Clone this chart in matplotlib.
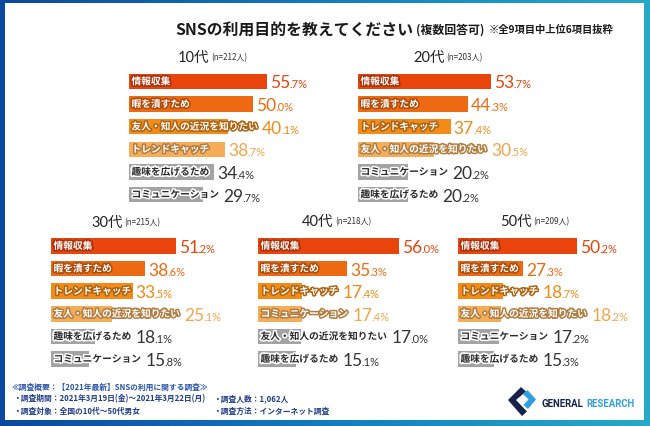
import matplotlib
matplotlib.use('Agg')
import matplotlib.pyplot as plt
from matplotlib import patheffects as pe
from matplotlib.patches import Rectangle, Polygon
from matplotlib.colors import LinearSegmentedColormap, to_rgb
from matplotlib.transforms import offset_copy
import numpy as np

W, H, DPI = 650, 427, 100
JP = ['Noto Sans CJK JP', 'DejaVu Sans']
NUM = ['Lato', 'Noto Sans CJK JP', 'DejaVu Sans']
plt.rcParams['font.family'] = JP

# ---------------- data ----------------
title = 'SNSの利用目的を教えてください'
title_note = '(複数回答可)'
title_sub = '※全9項目中上位6項目抜粋'

ages = ['10代', '20代', '30代', '40代', '50代']
sample_n = [212, 203, 215, 218, 209]

cats_10s = ['情報収集', '暇を潰すため', '友人・知人の近況を知りたい', 'トレンドキャッチ', '趣味を広げるため', 'コミュニケーション']
vals_10s = [55.7, 50.0, 40.1, 38.7, 34.4, 29.7]
cats_20s = ['情報収集', '暇を潰すため', 'トレンドキャッチ', '友人・知人の近況を知りたい', 'コミュニケーション', '趣味を広げるため']
vals_20s = [53.7, 44.3, 37.4, 30.5, 20.2, 20.2]
cats_30s = ['情報収集', '暇を潰すため', 'トレンドキャッチ', '友人・知人の近況を知りたい', '趣味を広げるため', 'コミュニケーション']
vals_30s = [51.2, 38.6, 33.5, 25.1, 18.1, 15.8]
cats_40s = ['情報収集', '暇を潰すため', 'トレンドキャッチ', 'コミュニケーション', '友人・知人の近況を知りたい', '趣味を広げるため']
vals_40s = [56.0, 35.3, 17.4, 17.4, 17.0, 15.1]
cats_50s = ['情報収集', '暇を潰すため', 'トレンドキャッチ', '友人・知人の近況を知りたい', 'コミュニケーション', '趣味を広げるため']
vals_50s = [50.2, 27.3, 18.7, 18.2, 17.2, 15.3]

panel_cats = [cats_10s, cats_20s, cats_30s, cats_40s, cats_50s]
panel_vals = [vals_10s, vals_20s, vals_30s, vals_40s, vals_50s]

footer_head = '≪調査概要：【2021年最新】SNSの利用に関する調査≫'
footer_left = ['・調査期間：2021年3月19日(金)〜2021年3月22日(月)', '・調査対象：全国の10代〜50代男女']
footer_right = ['・調査人数：1,062人', '・調査方法：インターネット調査']

# ---------------- styles / layout ----------------
rank_colors = ['#E8440C', '#EE6A12', '#F28B18', '#F6AD5A', '#A3A3A3', '#A3A3A3']
value_colors = ['#E8440C', '#EE6A12', '#F08A14', '#F3A54C', '#333333', '#333333']
# bar x start (px), px per percent, first row centre (px), header x, header y
layout = [
    dict(x0=129, s=2.48, y0=82.5, hx=178, hy=58),
    dict(x0=358, s=2.48, y0=82.5, hx=413, hy=58),
    dict(x0=51, s=2.435, y0=247, hx=91, hy=223),
    dict(x0=258, s=2.52, y0=247, hx=302, hy=222),
    dict(x0=458, s=2.38, y0=247, hx=500, hy=222),
]
STEP = 22.6
BAR_H = 15.5

fig = plt.figure(figsize=(W / DPI, H / DPI), dpi=DPI)
R = fig.canvas.get_renderer()

# background frame (pixel coordinates, y downward)
bg = fig.add_axes([0, 0, 1, 1], zorder=-10)
bg.set_xlim(0, W)
bg.set_ylim(H, 0)
bg.axis('off')
cmap = LinearSegmentedColormap.from_list('frame', ['#0b48a0', '#137cc0', '#26aac8'])
bg.imshow(np.linspace(0, 1, 256)[None, :], cmap=cmap, extent=[0, W, H, 0], aspect='auto')
bg.add_patch(Rectangle((5, 4), 639, 417, facecolor='white', edgecolor='none'))


def darker(c, f=0.72):
    r, g, b = to_rgb(c)
    return (r * f, g * f, b * f)


def chain(x, y, parts):
    """Place text parts one after another on the pixel-coordinate bg axes."""
    for txt, kw, gap in parts:
        t = bg.text(x, y, txt, ha='left', **kw)
        bb = t.get_window_extent(renderer=R)
        x = bb.x1 + gap
    return x


# title
chain(175, 30, [
    (title, dict(fontsize=11.4, fontweight='bold', color='#1a1a1a', va='center'), 3),
    (title_note, dict(fontsize=8.6, fontweight='bold', color='#1a1a1a', va='center'), 4),
    (title_sub, dict(fontsize=7.4, fontweight='bold', color='#1a1a1a', va='center'), 0),
])

for k in range(5):
    L = layout[k]
    cats, vals = panel_cats[k], panel_vals[k]
    xmax = 70
    top = L['y0'] - STEP / 2
    bottom = L['y0'] + 5 * STEP + STEP / 2
    ax = fig.add_axes([L['x0'] / W, 1 - bottom / H, xmax * L['s'] / W, (bottom - top) / H])
    ax.set_xlim(0, xmax)
    ax.set_ylim(5.5, -0.5)
    ax.axis('off')
    ax.patch.set_alpha(0)
    ypos = np.arange(len(vals))
    ax.barh(ypos, vals, height=BAR_H / STEP, color=rank_colors[:len(vals)], linewidth=0)

    # header
    chain(L['hx'], L['hy'], [
        (ages[k], dict(fontsize=10.5, family=NUM, fontweight='normal', color='#222222', va='center'), 2),
        (f'(n={sample_n[k]}人)', dict(fontsize=5.8, color='#333333', va='center'), 0),
    ])

    lab_tr = offset_copy(ax.transData, fig=fig, x=2.5, y=0, units='dots')
    num_tr = offset_copy(ax.transData, fig=fig, x=0, y=-6, units='dots')
    for i, (c, v) in enumerate(zip(cats, vals)):
        if i < 4:
            fill, stroke = 'white', darker(rank_colors[i])
        else:
            fill, stroke = '#2a2a2a', 'white'
        t = ax.text(0, i, c, transform=lab_tr, ha='left', va='center', fontsize=7.0,
                    fontweight='bold', color=fill,
                    path_effects=[pe.withStroke(linewidth=2.2, foreground=stroke)])
        lab_end = t.get_window_extent(renderer=R).x1 + 1
        bar_end = ax.transData.transform((v, i))[0]
        xd = max(lab_end, bar_end) + 3
        xdata = ax.transData.inverted().transform((xd, 0))[0]
        s = f'{v:.1f}'
        big, small = s.split('.')
        tb = ax.text(xdata, i, big, transform=num_tr, ha='left', va='baseline',
                     fontsize=12.5, family=NUM, fontweight='normal', color=value_colors[i])
        xe = tb.get_window_extent(renderer=R).x1 - 1.0
        xdata2 = ax.transData.inverted().transform((xe, 0))[0]
        ax.text(xdata2, i, '.' + small + '%', transform=num_tr, ha='left', va='baseline',
                fontsize=8.0, family=NUM, fontweight='normal', color=value_colors[i])

# footer
fcol = '#1f3c86'
bg.text(12, 387, footer_head, fontsize=5.6, fontweight='bold', color='#2a55a8', va='center')
for j, yy in enumerate([399, 411]):
    bg.text(13, yy, footer_left[j], fontsize=5.6, fontweight='bold', color=fcol, va='center')
    bg.text(213, yy, footer_right[j], fontsize=5.6, fontweight='bold', color=fcol, va='center')

# logo
bg.add_patch(Polygon([(508, 401), (521, 388), (526, 392.5), (516, 401), (527, 412.5), (522, 417)],
                     closed=True, facecolor='#15224c', edgecolor='none'))
bg.add_patch(Polygon([(523, 395), (527.5, 391), (536, 400.5), (528, 410), (523.5, 406), (528.5, 400.5)],
                     closed=True, facecolor='#2f9fe0', edgecolor='none'))
chain(542, 404, [
    ('GENERAL', dict(fontsize=6.9, family=['Roboto', 'DejaVu Sans'],
                     fontweight='bold', color='#15224c', va='center'), 2.5),
    ('RESEARCH', dict(fontsize=6.9, family=['Roboto', 'DejaVu Sans'],
                      fontweight='bold', color='#2f9fe0', va='center'), 0),
])

fig.savefig('out.png', dpi=DPI)
